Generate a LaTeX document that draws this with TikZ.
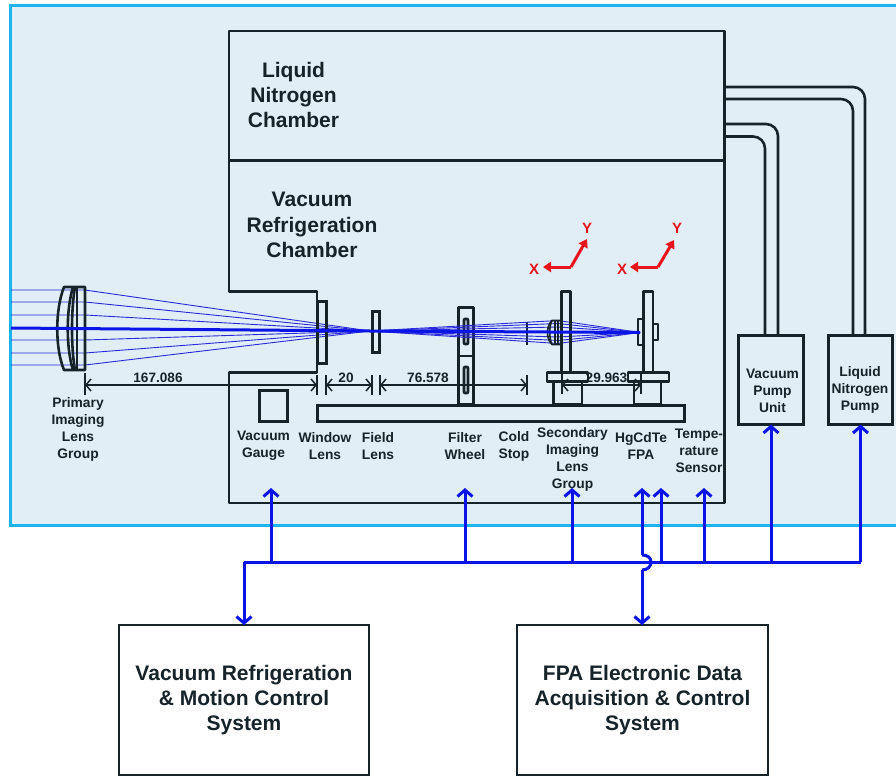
\documentclass[tikz,border=0pt]{standalone}
\usepackage{fontspec}
\setmainfont{Liberation Sans}
\usetikzlibrary{arrows.meta}
\definecolor{panel}{HTML}{E1EEF5}
\definecolor{frameblue}{HTML}{1CB4EC}
\definecolor{ink}{HTML}{16242A}
\definecolor{raycol}{HTML}{2A2ADC}
\definecolor{busblue}{HTML}{0A14E6}
\definecolor{axisred}{HTML}{E8141C}
\tikzset{
  part/.style={draw=ink,line width=2.6pt,line join=round},
  divider/.style={draw=ink,line width=2.6pt},
  thinpart/.style={draw=ink,line width=1.6pt,line join=round},
  pipe/.style={draw=ink,line width=2.6pt,rounded corners=12pt},
  dimline/.style={draw=ink,line width=1.5pt,{Straight Barb[length=5pt,width=12pt]}-{Straight Barb[length=5pt,width=12pt]}},
  tick/.style={draw=ink,line width=1.4pt},
  ray/.style={draw=raycol,line width=.9pt},
  bus/.style={draw=busblue,line width=3pt},
  busarrow/.style={draw=busblue,line width=3pt,-{Straight Barb[length=6.5pt,width=15pt]}},
  axisarrow/.style={draw=axisred,line width=3pt,-{Triangle[length=8pt,width=10pt]}},
  axislabel/.style={text=axisred,font=\bfseries\fontsize{15}{15}\selectfont,inner sep=0pt},
  lbl/.style={text=ink,font=\bfseries\fontsize{13.8}{17}\selectfont,align=center,inner sep=0pt},
  biglbl/.style={text=ink,font=\bfseries\fontsize{21}{25.4}\selectfont,align=center,inner sep=0pt},
  dimlbl/.style={text=ink,font=\bfseries\fontsize{13.6}{14}\selectfont,inner sep=0pt},
  boxnode/.style={draw=ink,line width=2.6pt,inner sep=0pt,outer sep=0pt,anchor=north west},
}
\begin{document}
\begin{tikzpicture}[x=1pt,y=-1pt]
\useasboundingbox (0,0) rectangle (896,776);
\fill[white] (0,0) rectangle (896,776);
% panel
\path[fill=panel] (10.5,5.5) rectangle (896,525.5);
\draw[frameblue,line width=2.8pt] (897,5.5) -- (10.5,5.5) -- (10.5,525.5) -- (897,525.5);
% rays left
\foreach \yy in {290,302,315,340,353,365}{
  \draw[ray] (11,\yy) -- (85,\yy) -- (370,331);
}
% chamber
\draw[part] (229,161) -- (229,31) -- (724.5,31) -- (724.5,503) -- (229,503) -- (229,372.5) -- (317,372.5) -- (317,291.5) -- (229,291.5) -- (229,161);
\draw[divider] (229,160.5) -- (724.5,160.5);
\coordinate (ch87) at (724.5,87);
\coordinate (ch99) at (724.5,99);
\coordinate (ch124) at (724.5,124);
\coordinate (ch136) at (724.5,136.5);
% pumps
\node[boxnode,minimum width=65pt,minimum height=89pt] (vpu) at (738.5,335.5) {};
\node[boxnode,minimum width=64pt,minimum height=89pt] (lnp) at (828.5,335.5) {};
\node[lbl] (vpt) at (772.5,391) {Vacuum\\Pump\\Unit};
\node[lbl] (lnt) at (860,390) {Liquid\\Nitrogen\\Pump};
\draw[pipe] (ch87) -- (865,87) -- (865,335);
\draw[pipe] (ch99) -- (853,99) -- (853,335);
\draw[pipe] (ch124) -- (778,124) -- (778,335);
\draw[pipe] (ch136) -- (765,136.5) -- (765,335);
% big labels
\node[biglbl] (lnc) at (293.5,95) {Liquid\\Nitrogen\\Chamber};
\node[biglbl] (vrc) at (312,225) {Vacuum\\Refrigeration\\Chamber};
% primary lens
\draw[part] (64,287) .. controls (55,310) and (55,348) .. (64,370) -- (85,370) -- (85,287) -- cycle;
\draw[part] (73,287) .. controls (66,310) and (66,348) .. (73,370);
\draw[part] (75,287) .. controls (71,310) and (71,348) .. (75,370);
\draw[part] (77,287) -- (77,370);
% window, field lens
\node[boxnode,minimum width=9pt,minimum height=62pt] (win) at (317.5,301.5) {};
\node[boxnode,minimum width=7pt,minimum height=41pt] (fld) at (372.5,311.5) {};
% bench
\node[boxnode,minimum width=367pt,minimum height=16pt] (bench) at (317.5,405.5) {};
% gauge
\node[boxnode,minimum width=28pt,minimum height=31pt] (gauge) at (259.5,390.5) {};
% filter wheel
\draw[part] (458.5,307.5) rectangle (473.5,404);
\draw[part] (458.5,356) -- (473.5,356);
\draw[part,rounded corners=.8pt] (464,319) rectangle (468,344);
\draw[part,rounded corners=.8pt] (464,367) rectangle (468,393);
% cold stop
\draw[thinpart] (527,322) -- (527,345);
% secondary rays
\foreach \yy in {320.5,323.5,327,337,340.5,343.5}{
  \draw[ray] (370,331) -- (558,\yy) -- (640,332.5);
}
\draw[thinpart] (552,320.5) .. controls (546,326) and (546,339) .. (552,344.5) -- (561,344.5) -- (561,320.5) -- cycle;
\draw[thinpart] (552,320.5) .. controls (549,326) and (549,339) .. (552,344.5);
\draw[thinpart] (555,320.5) -- (555,344.5) (558,320.5) -- (558,344.5);
\draw[part] (561.5,291.5) rectangle (570.5,372.5);
\draw[part] (547,372.5) rectangle (588,381.5);
\draw[part] (553.5,381.5) rectangle (582,404.5);
\draw[part] (643.5,291.5) rectangle (653,372.5);
\draw[part] (628,372.5) rectangle (669,381.5);
\draw[part] (634,381.5) rectangle (661,404.5);
\draw[part] (638,319) rectangle (643.5,345);
\draw[part] (653,324) rectangle (658,340);
% optical axis
\draw[draw=busblue,line width=3pt] (11,328) -- (370,331) -- (640,332.5);
% dimensions
\coordinate (d85) at (85,385); \coordinate (d317) at (317,385);
\coordinate (d326) at (326,385); \coordinate (d372) at (372,385);
\coordinate (d380) at (380,385); \coordinate (d527) at (527,385);
\coordinate (d562) at (562,385); \coordinate (d641) at (641,385);
\draw[tick] (85,373) -- (85,395);
\draw[tick] (317,375) -- (317,395);
\draw[tick] (326,375) -- (326,395);
\draw[tick] (372,375) -- (372,395);
\draw[tick] (380,375) -- (380,395);
\draw[tick] (527,375) -- (527,395);
\draw[tick] (562,374) -- (562,394);
\draw[tick] (641,374) -- (641,394);
\draw[dimline] (d85) -- (d317);
\draw[dimline] (d326) -- (d372);
\draw[dimline] (d380) -- (d527);
\draw[dimline] (d562) -- (d641);
\node[dimlbl] (t1) at (158,378) {167.086};
\node[dimlbl] (t2) at (346,378) {20};
\node[dimlbl] (t3) at (428,378) {76.578};
\node[dimlbl] (t4) at (606.5,378) {29.963};
% axes
\coordinate (o1) at (571,267); \coordinate (x1) at (543,267); \coordinate (y1) at (587,239);
\coordinate (o2) at (658,267); \coordinate (x2) at (630,267); \coordinate (y2) at (674,240);
\draw[axisarrow] (o1) -- (x1);
\draw[axisarrow] (o1) -- (y1);
\draw[axisarrow] (o2) -- (x2);
\draw[axisarrow] (o2) -- (y2);
\node[axislabel] (xl1) at (534,269) {X};
\node[axislabel] (yl1) at (587,228) {Y};
\node[axislabel] (xl2) at (622,269) {X};
\node[axislabel] (yl2) at (677,228) {Y};
% labels
\node[lbl] (l1) at (78,429) {Primary\\Imaging\\Lens\\Group};
\node[lbl] (l2) at (263.5,446) {Vacuum\\Gauge};
\node[lbl] (l3) at (325,446) {Window\\Lens};
\node[lbl] (l4) at (378,446) {Field\\Lens};
\node[lbl] (l5) at (465,446) {Filter\\Wheel};
\node[lbl] (l6) at (514,446) {Cold\\Stop};
\node[lbl] (l7) at (572.5,459.5) {Secondary\\Imaging\\Lens\\Group};
\node[lbl] (l8) at (641,446) {HgCdTe\\FPA};
\node[lbl] (l9) at (699,451) {Tempe-\\rature\\Sensor};
% bottom boxes
\node[boxnode,fill=white,line width=2.2pt,minimum width=250pt,minimum height=150pt] (vrm) at (119,625) {};
\node[boxnode,fill=white,line width=2.2pt,minimum width=251pt,minimum height=150pt] (fpa) at (517,625) {};
\node[biglbl] at (244,700) {Vacuum Refrigeration\\\& Motion Control\\System};
\node[biglbl] at (642.5,700) {FPA Electronic Data\\Acquisition \& Control\\System};
% bus
\coordinate (busL) at (244,562);
\coordinate (busR) at (lnp.south |- busL);
\draw[bus] (busL) -- (busR);
\foreach \xx in {271,465,572,661,704}{
  \coordinate (b\xx) at (\xx,562);
  \draw[busarrow] (b\xx) -- (\xx,488);
}
\draw[busarrow] (vpu.south |- busL) -- (vpu.south);
\draw[busarrow] (busR) -- (lnp.south);
\draw[busarrow] (busL) -- (vrm.north -| busL);
\coordinate (fpaTip) at (642,488);
\coordinate (fpaBot) at (642,625);
\draw[busarrow] (642,555) -- (fpaTip);
\draw[bus] (642,555) .. controls (648,555) and (651,558) .. (651,562) .. controls (651,566) and (648,570) .. (642,570);
\draw[busarrow] (642,570) -- (fpaBot);
\end{tikzpicture}
\end{document}
